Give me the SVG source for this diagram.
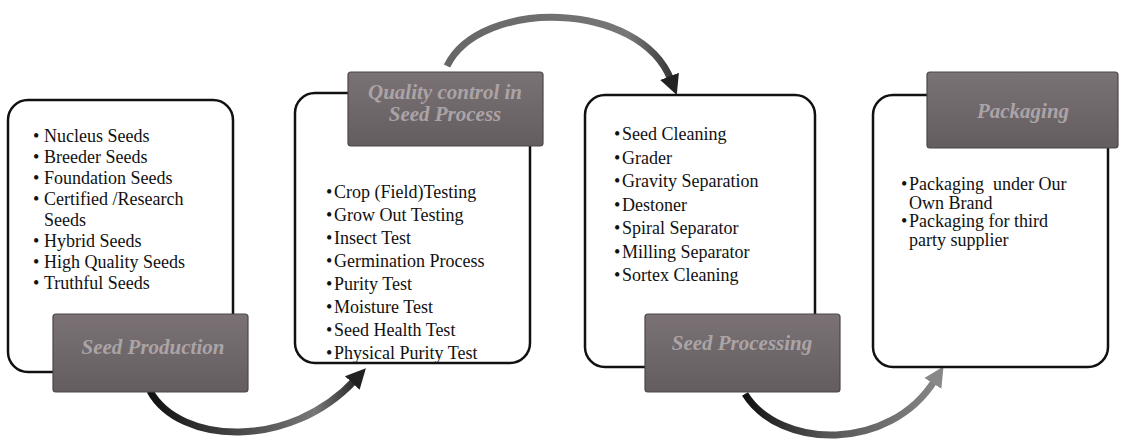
<svg xmlns="http://www.w3.org/2000/svg" width="1121" height="445" viewBox="0 0 1121 445">
<style>
.box{fill:#fff;stroke:#111;stroke-width:2.5}
.lbl{fill:url(#lg);stroke:#4d4749;stroke-width:1.2}
.lt{font-family:"Liberation Serif",serif;font-style:italic;font-weight:bold;font-size:21px;fill:#aba4a7;text-anchor:middle}
.it{font-family:"Liberation Serif",serif;font-size:18px;fill:#111}
.arr{fill:none;stroke-width:7;stroke-linecap:butt}
</style>
<defs>
<linearGradient id="lg" x1="0" y1="0" x2="0" y2="1">
<stop offset="0" stop-color="#7a7275"/>
<stop offset="1" stop-color="#645d60"/>
</linearGradient>
<linearGradient id="g1" gradientUnits="userSpaceOnUse" x1="150" y1="0" x2="370" y2="0">
<stop offset="0" stop-color="#111"/>
<stop offset="0.5" stop-color="#555"/>
<stop offset="0.75" stop-color="#777"/>
<stop offset="1" stop-color="#111"/>
</linearGradient>
<linearGradient id="g2" gradientUnits="userSpaceOnUse" x1="445" y1="0" x2="675" y2="0">
<stop offset="0" stop-color="#666"/>
<stop offset="0.8" stop-color="#777"/>
<stop offset="1" stop-color="#333"/>
</linearGradient>
<linearGradient id="g3" gradientUnits="userSpaceOnUse" x1="745" y1="0" x2="945" y2="0">
<stop offset="0" stop-color="#111"/>
<stop offset="0.4" stop-color="#555"/>
<stop offset="1" stop-color="#888"/>
</linearGradient>
<marker id="ahD" markerUnits="userSpaceOnUse" markerWidth="22" markerHeight="22" viewBox="0 0 22 22" refX="4" refY="11" orient="auto">
<path d="M0,1 L20,11 L0,21 Z" fill="#222"/>
</marker>
<marker id="ahG" markerUnits="userSpaceOnUse" markerWidth="22" markerHeight="22" viewBox="0 0 22 22" refX="4" refY="11" orient="auto">
<path d="M0,1 L20,11 L0,21 Z" fill="#888"/>
</marker>
</defs>

<g id="connectors">
<path class="arr" stroke="url(#g1)" d="M150,391 C180,445 290,450 355,380" marker-end="url(#ahD)"/>
<path class="arr" stroke="url(#g2)" d="M447,66 C480,-2 640,0 671,80" marker-end="url(#ahD)"/>
<path class="arr" stroke="url(#g3)" d="M745,394 C780,450 890,452 935,380" marker-end="url(#ahG)"/>
</g>

<g id="node-seed-production">
<rect class="box" x="8" y="100" width="225" height="272" rx="20"/>
<text class="it" x="33" y="142">•</text><text class="it" x="44" y="142">Nucleus Seeds</text>
<text class="it" x="33" y="163">•</text><text class="it" x="44" y="163">Breeder Seeds</text>
<text class="it" x="33" y="184">•</text><text class="it" x="44" y="184">Foundation Seeds</text>
<text class="it" x="33" y="205">•</text><text class="it" x="44" y="205">Certified /Research</text>
<text class="it" x="44" y="226">Seeds</text>
<text class="it" x="33" y="247">•</text><text class="it" x="44" y="247">Hybrid Seeds</text>
<text class="it" x="33" y="268">•</text><text class="it" x="44" y="268">High Quality Seeds</text>
<text class="it" x="33" y="289">•</text><text class="it" x="44" y="289">Truthful Seeds</text>
<rect class="lbl" x="53" y="314" width="195" height="78" rx="3"/>
<text class="lt" x="153" y="354">Seed Production</text>
</g>

<g id="node-quality-control">
<rect class="box" x="295" y="93" width="235" height="270" rx="20"/>
<rect class="lbl" x="348" y="72" width="195" height="74" rx="3"/>
<text class="lt" x="445" y="99">Quality control in</text>
<text class="lt" x="445" y="121">Seed Process</text>
<text class="it" x="326" y="198">•</text><text class="it" x="334" y="198">Crop (Field)Testing</text>
<text class="it" x="326" y="221">•</text><text class="it" x="334" y="221">Grow Out Testing</text>
<text class="it" x="326" y="244">•</text><text class="it" x="334" y="244">Insect Test</text>
<text class="it" x="326" y="267">•</text><text class="it" x="334" y="267">Germination Process</text>
<text class="it" x="326" y="290">•</text><text class="it" x="334" y="290">Purity Test</text>
<text class="it" x="326" y="313">•</text><text class="it" x="334" y="313">Moisture Test</text>
<text class="it" x="326" y="336">•</text><text class="it" x="334" y="336">Seed Health Test</text>
<text class="it" x="326" y="359">•</text><text class="it" x="334" y="359">Physical Purity Test</text>
</g>

<g id="node-seed-processing">
<rect class="box" x="585" y="95" width="230" height="272" rx="20"/>
<text class="it" x="614" y="140">•</text><text class="it" x="622" y="140">Seed Cleaning</text>
<text class="it" x="614" y="163.5">•</text><text class="it" x="622" y="163.5">Grader</text>
<text class="it" x="614" y="187">•</text><text class="it" x="622" y="187">Gravity Separation</text>
<text class="it" x="614" y="210.5">•</text><text class="it" x="622" y="210.5">Destoner</text>
<text class="it" x="614" y="234">•</text><text class="it" x="622" y="234">Spiral Separator</text>
<text class="it" x="614" y="257.5">•</text><text class="it" x="622" y="257.5">Milling Separator</text>
<text class="it" x="614" y="281">•</text><text class="it" x="622" y="281">Sortex Cleaning</text>
<rect class="lbl" x="645" y="314" width="195" height="78" rx="3"/>
<text class="lt" x="742" y="350">Seed Processing</text>
</g>

<g id="node-packaging">
<rect class="box" x="873" y="95" width="235" height="272" rx="20"/>
<rect class="lbl" x="927" y="72" width="191" height="76" rx="3"/>
<text class="lt" x="1023" y="118">Packaging</text>
<text class="it" x="901" y="190">•</text><text class="it" x="909" y="190">Packaging&#160; under Our</text>
<text class="it" x="909" y="208.5">Own Brand</text>
<text class="it" x="901" y="227">•</text><text class="it" x="909" y="227">Packaging for third</text>
<text class="it" x="909" y="245.5">party supplier</text>
</g>
</svg>
